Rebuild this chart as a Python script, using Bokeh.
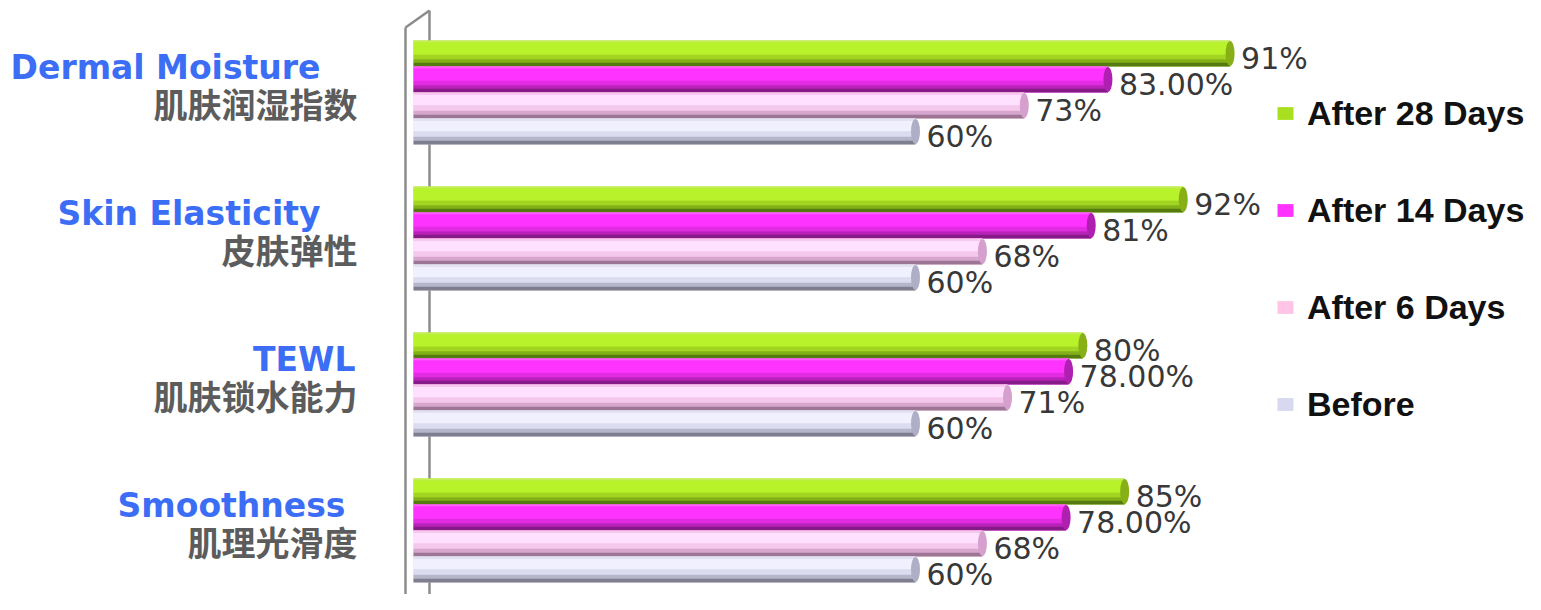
from bokeh.plotting import figure
from bokeh.models import Range1d, ColumnDataSource, Legend, LegendItem
from bokeh.core.properties import value
from bokeh.embed import file_html
from bokeh.resources import INLINE

# ---------------- data ----------------
categories_en = ["Dermal Moisture", "Skin Elasticity", "TEWL", "Smoothness"]
categories_zh = ["肌肤润湿指数", "皮肤弹性", "肌肤锁水能力", "肌理光滑度"]
series_names = ["After 28 Days", "After 14 Days", "After 6 Days", "Before"]

after28 = [97.6, 92, 80, 85]
after14 = [83, 81, 78.3, 78]
after6 = [73, 68, 71, 68]
before = [60, 60, 60, 60]

after28_labels = ["91%", "92%", "80%", "85%"]
after14_labels = ["83.00%", "81%", "78.00%", "78.00%"]
after6_labels = ["73%", "68%", "71%", "68%"]
before_labels = ["60%", "60%", "60%", "60%"]

series_values = [after28, after14, after6, before]
series_labels = [after28_labels, after14_labels, after6_labels, before_labels]

# ---------------- layout / style ----------------
W, H = 1525, 594
ppu = 502 / 60.0          # pixels per percent
x0_px = 413               # canvas x of value 0
group_px = 146.0          # pixels between category centres
top_px = 92.0             # canvas y of first category centre

bar_h = 26.0 / group_px
offsets = [(-1.5 + i) * bar_h for i in range(4)]

bands = [
    [(0.00, 0.08, "#c4ee5a"), (0.08, 0.55, "#b8f22a"), (0.55, 0.72, "#a2d422"),
     (0.72, 0.86, "#82b018"), (0.86, 1.00, "#557a10")],
    [(0.00, 0.08, "#ff5cff"), (0.08, 0.55, "#ff33ff"), (0.55, 0.72, "#e22ce2"),
     (0.72, 0.86, "#b822b8"), (0.86, 1.00, "#861a86")],
    [(0.00, 0.10, "#f6c8ee"), (0.10, 0.50, "#ffe0ff"), (0.50, 0.70, "#f4c8ec"),
     (0.70, 0.86, "#d6a6ce"), (0.86, 1.00, "#9c7694")],
    [(0.00, 0.10, "#e2e2f2"), (0.10, 0.50, "#f0f0ff"), (0.50, 0.70, "#dcdcf0"),
     (0.70, 0.86, "#b6b6ca"), (0.86, 1.00, "#7e7e8e")],
]
base_colors = ["#a8e020", "#ff33ff", "#ffc4e6", "#d8d8f0"]
cap_colors = ["#86b016", "#b020b0", "#d6a0ce", "#aeaec6"]

x_range = Range1d(-x0_px / ppu, (W - x0_px) / ppu)
y_range = Range1d((H - top_px) / group_px, -top_px / group_px)

p = figure(width=W, height=H, x_range=x_range, y_range=y_range,
           output_backend="svg", toolbar_location=None,
           x_axis_location=None, y_axis_location=None, min_border=0)
p.grid.visible = False
p.outline_line_color = None
p.background_fill_color = "white"

# 3D wall
fx, bx = -8 / ppu, 16 / ppu
def yd(ref_y):
    return (ref_y - top_px) / group_px
p.multi_line(xs=[[fx, fx], [bx, bx], [fx, bx], [fx, bx]],
             ys=[[yd(27), yd(607)], [yd(10), yd(594)], [yd(27), yd(10)], [yd(607), yd(594)]],
             line_color="#8c8c8c", line_width=2.5)

cat_y = list(range(len(categories_en)))
base_renderers = []
for si, (vals, labs) in enumerate(zip(series_values, series_labels)):
    yc = [k + offsets[si] for k in cat_y]
    src = ColumnDataSource(dict(y=yc, v=vals, lab=labs, zero=[0] * len(vals)))
    r = p.hbar(y="y", left="zero", right="v", height=bar_h, source=src,
               fill_color=base_colors[si], line_color=None)
    base_renderers.append(r)
    for (f0, f1, col) in bands[si]:
        yb = [c - bar_h / 2 + bar_h * (f0 + f1) / 2 for c in yc]
        p.hbar(y=yb, left=0, right=vals, height=bar_h * (f1 - f0) + 0.001,
               fill_color=col, line_color=None)
    p.ellipse(x="v", y="y", width=9, width_units="screen", height=bar_h * 0.96,
              source=src, fill_color=cap_colors[si], line_color=None)
    p.text(x="v", y="y", text="lab", source=src, x_offset=11, y_offset=5,
           text_align="left", text_baseline="middle",
           text_font=value("DejaVu Sans"), text_font_size="30px",
           text_color="#383838")

# category labels
en_shift_px = [-93, -93, -58, -68]
zh_shift_px = -56
src_en = ColumnDataSource(dict(x=[s / ppu for s in en_shift_px],
                               y=[k - 25 / group_px for k in cat_y],
                               t=categories_en))
p.text(x="x", y="y", text="t", source=src_en, text_align="right",
       text_baseline="middle", text_font=value("DejaVu Sans"),
       text_font_style="bold", text_font_size="33px", text_color="#3b6ef5")
src_zh = ColumnDataSource(dict(x=[zh_shift_px / ppu] * len(cat_y),
                               y=[k + 11 / group_px for k in cat_y],
                               t=categories_zh))
p.text(x="x", y="y", text="t", source=src_zh, text_align="right",
       text_baseline="middle", text_font=value("Noto Sans CJK SC"),
       text_font_style="bold", text_font_size="34px", text_color="#5c5c5c")

legend = Legend(items=[LegendItem(label=n, renderers=[r])
                       for n, r in zip(series_names, base_renderers)],
                location=(1275, 170), orientation="vertical",
                glyph_width=20, glyph_height=16, label_standoff=12,
                label_height=40, spacing=57, padding=0, margin=0,
                border_line_color=None, background_fill_alpha=0,
                label_text_font="Liberation Sans", label_text_font_style="bold",
                label_text_font_size="34px", label_text_color="#111111")
p.add_layout(legend)

open("out.html", "w").write(file_html(p, INLINE))
